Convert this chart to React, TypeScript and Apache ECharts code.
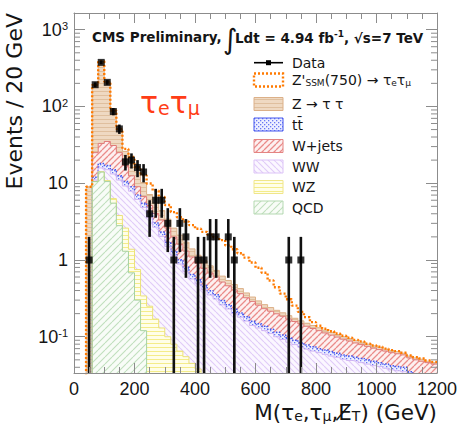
import React, { useEffect, useRef } from 'react';
import * as echarts from 'echarts';

// ---------- data (20 GeV bins, lower edges 0 ... 1180) ----------
const BIN_WIDTH = 20;
const massRange = [0, 1200];
const xTickStep = 200;

const qcd = [
  0, 0, 0, 10.5, 14, 10.5, 5.5, 2.8, 1.3, 0.68,
  0.3, 0.12, 0, 0, 0, 0, 0, 0, 0, 0,
  0, 0, 0, 0, 0, 0, 0, 0, 0, 0,
  0, 0, 0, 0, 0, 0, 0, 0, 0, 0,
  0, 0, 0, 0, 0, 0, 0, 0, 0, 0,
  0, 0, 0, 0, 0, 0, 0, 0, 0, 0,
];
const wz = [
  0, 0, 0, 0, 0.1, 0.3, 0.8, 1.0, 1.3, 0.7,
  0.45, 0.22, 0.25, 0.17, 0.13, 0.1, 0.08, 0.065, 0.055, 0.045,
  0.038, 0.03, 0, 0, 0, 0, 0, 0, 0, 0,
  0, 0, 0, 0, 0, 0, 0, 0, 0, 0,
  0, 0, 0, 0, 0, 0, 0, 0, 0, 0,
  0, 0, 0, 0, 0, 0, 0, 0, 0, 0,
];
const ww = [
  0, 0, 0, 0.5, 1.7, 4.2, 6.9, 7.2, 6.6, 6.5,
  5.4, 4.5, 3.3, 2.5, 1.9, 1.4, 1.06, 0.82, 0.65, 0.52,
  0.45, 0.38, 0.35, 0.31, 0.26, 0.23, 0.2, 0.18, 0.16, 0.14,
  0.13, 0.12, 0.11, 0.1, 0.092, 0.085, 0.079, 0.073, 0.069, 0.065,
  0.062, 0.059, 0.056, 0.054, 0.051, 0.049, 0.048, 0.046, 0.044, 0.042,
  0.041, 0.039, 0.037, 0.036, 0.035, 0.031, 0.029, 0.028, 0.027, 0.026,
];
const ttbar = [
  0, 0, 0, 1.0, 2.2, 2.0, 1.8, 1.5, 1.3, 1.1,
  0.85, 0.66, 0.48, 0.36, 0.28, 0.2, 0.16, 0.12, 0.1, 0.08,
  0.066, 0.056, 0.048, 0.042, 0.036, 0.031, 0.028, 0.024, 0.022, 0.019,
  0.018, 0.017, 0.015, 0.014, 0.013, 0.012, 0.011, 0.01, 0.009, 0.009,
  0.008, 0.008, 0.008, 0.007, 0.007, 0.007, 0.006, 0.006, 0.006, 0.006,
  0.005, 0.005, 0.005, 0.005, 0.005, 0.004, 0.004, 0.004, 0.004, 0.004,
];
const wjets = [
  0, 0, 0, 13, 15, 18, 16, 12.5, 6.5, 3.5,
  2, 1.2, 1.1, 1.0, 1.0, 0.9, 0.7, 0.6, 0.5, 0.45,
  0.35, 0.31, 0.28, 0.25, 0.22, 0.2, 0.18, 0.16, 0.14, 0.13,
  0.11, 0.095, 0.09, 0.085, 0.08, 0.073, 0.068, 0.064, 0.059, 0.054,
  0.05, 0.045, 0.041, 0.038, 0.035, 0.032, 0.029, 0.027, 0.025, 0.023,
  0.022, 0.021, 0.02, 0.019, 0.018, 0.018, 0.017, 0.016, 0.015, 0.014,
];
const ztautau = [
  0, 0, 9, 165, 357, 175, 57, 25, 9, 6.5,
  5, 3.5, 2, 1.5, 1.1, 0.8, 0.6, 0.5, 0.4, 0.3,
  0.25, 0.2, 0.16, 0.13, 0.1, 0.08, 0.07, 0.06, 0.05, 0.04,
  0.035, 0.03, 0.025, 0.022, 0.02, 0.018, 0.016, 0.014, 0.013, 0.012,
  0.011, 0.01, 0.009, 0.008, 0.007, 0.007, 0.006, 0.006, 0.005, 0.005,
  0.005, 0.004, 0.004, 0.004, 0.003, 0.003, 0.003, 0.003, 0.002, 0.002,
];
const zprime = [
  0, 0, 0, 0, 0, 0.2, 0.5, 1.0, 2.0, 3.0,
  2.2, 2.5, 2.8, 2.5, 2.2, 1.8, 1.6, 1.5, 1.45, 1.45,
  1.4, 1.35, 1.3, 1.25, 1.2, 1.0, 0.9, 0.8, 0.7, 0.6,
  0.5, 0.42, 0.3, 0.22, 0.16, 0.12, 0.08, 0.05, 0.03, 0.015,
  0.008, 0.005, 0.004, 0.003, 0.003, 0.002, 0.002, 0.002, 0.001, 0.001,
  0.001, 0.001, 0.001, 0.001, 0.001, 0.001, 0.001, 0.001, 0.001, 0.001,
];

const dataMass = [50, 70, 90, 110, 130, 150, 170, 190, 210, 230, 250, 270, 290, 310, 330, 350, 370, 410, 430, 450, 470, 510, 530, 710, 750];
const dataEvents = [1, 192, 375, 206, 86, 51, 19, 20, 16, 14, 4, 6, 6, 3, 1, 3, 2, 1, 1, 2, 2, 2, 1, 1, 1];

const Y_MIN = 0.0337;
const Y_MAX = 1650;

// ---------- styling helpers ----------
const FONT = "'DejaVu Sans', sans-serif";
const TICK_FONT = "'Liberation Sans', Arial, sans-serif";
const AXIS_GRAY = '#8c8c8c';
const INK = '#151515';

type Draw = (ctx: CanvasRenderingContext2D, s: number) => void;

function makePattern(size: number, bg: string, draw: Draw) {
  const c = document.createElement('canvas');
  c.width = size;
  c.height = size;
  const ctx = c.getContext('2d')!;
  ctx.fillStyle = bg;
  ctx.fillRect(0, 0, size, size);
  draw(ctx, size);
  return { image: c, repeat: 'repeat', imageWidth: size, imageHeight: size } as any;
}

function diag(color: string, width: number, dir: '/' | '\\'): Draw {
  return (ctx, s) => {
    ctx.strokeStyle = color;
    ctx.lineWidth = width;
    ctx.beginPath();
    for (const o of [-s, 0, s]) {
      if (dir === '/') {
        ctx.moveTo(o, s);
        ctx.lineTo(o + s, 0);
      } else {
        ctx.moveTo(o, 0);
        ctx.lineTo(o + s, s);
      }
    }
    ctx.stroke();
  };
}

function hstripe(color: string): Draw {
  return (ctx, s) => {
    ctx.fillStyle = color;
    ctx.fillRect(0, s - 1, s, 1);
  };
}

function steps(vals: number[]) {
  const floor = 1e-4;
  const pts = vals.map((v, i) => [i * BIN_WIDTH, Math.max(v, floor)]);
  pts.push([vals.length * BIN_WIDTH, Math.max(vals[vals.length - 1], floor)]);
  return pts;
}

function yLabel(value: number) {
  const e = Math.round(Math.log10(value));
  if (Math.abs(value - Math.pow(10, e)) > 1e-6 * value) return '';
  if (e === 0) return '{b|1}';
  if (e === 1) return '{b|10}';
  return '{b|10}{s|' + e + '}';
}

export default function App() {
  const ref = useRef<HTMLDivElement>(null);

  useEffect(() => {
    if (!ref.current) return;
    const chart = echarts.init(ref.current, null, { renderer: 'svg' });

    const patZ = makePattern(4, '#efd9c2', hstripe('#dfbf9e'));
    const patW = makePattern(6, '#fdf0f0', diag('#ea8c8a', 1.3, '/'));
    const patT = makePattern(4, '#eef0ff', (ctx) => {
      ctx.fillStyle = '#6977f4';
      ctx.fillRect(0, 0, 1.3, 1.3);
      ctx.fillRect(2, 2, 1.3, 1.3);
    });
    const patWW = makePattern(6, '#fbf7ff', diag('#e0cbf8', 1.1, '\\'));
    const patWZ = makePattern(4, '#fffee8', hstripe('#f4ec8a'));
    const patQ = makePattern(7, '#f8fcf7', diag('#c0dfbd', 1.1, '/'));

    const layers = [
      { values: qcd, fill: patQ, line: '#a6d2a2', type: 'solid' },
      { values: wz, fill: patWZ, line: '#ece27a', type: 'solid' },
      { values: ww, fill: patWW, line: '#d3b7f3', type: 'solid' },
      { values: ttbar, fill: patT, line: '#4456ee', type: 'dotted' },
      { values: wjets, fill: patW, line: '#e07a78', type: 'solid' },
      { values: ztautau, fill: patZ, line: '#dcb088', type: 'solid' },
    ];

    // cumulative stack (built from the component arrays)
    const cumulative: number[][] = [];
    let run = new Array(qcd.length).fill(0);
    for (const l of layers) {
      run = run.map((v, i) => v + l.values[i]);
      cumulative.push(run);
    }
    const totalBkg = cumulative[cumulative.length - 1];
    const withSignal = totalBkg.map((v, i) => v + zprime[i]);

    const stackSeries = layers
      .map((l, k) => ({
        type: 'line',
        data: steps(cumulative[k]),
        step: 'end',
        symbol: 'none',
        showSymbol: false,
        z: 2,
        lineStyle: { color: l.line, width: l.type === 'dotted' ? 1.5 : 1, type: l.type },
        areaStyle: { color: l.fill, opacity: 1, origin: 'start' },
        silent: true,
      }))
      .reverse();

    const minorTickValues: number[] = [];
    for (let e = -2; e <= 3; e++) {
      for (let m = 2; m <= 9; m++) {
        const v = m * Math.pow(10, e);
        if (v > Y_MIN && v < Y_MAX) minorTickValues.push(v);
      }
    }

    const xAxisBase = {
      type: 'value',
      min: massRange[0],
      max: massRange[1],
      interval: xTickStep,
      z: 6,
      axisLine: { show: true, onZero: false, lineStyle: { color: AXIS_GRAY, width: 1 } },
      axisTick: { show: true, inside: true, length: 10, lineStyle: { color: AXIS_GRAY } },
      minorTick: { show: true, splitNumber: 4, length: 6, lineStyle: { color: AXIS_GRAY } },
      splitLine: { show: false },
      minorSplitLine: { show: false },
    };
    const yAxisBase = {
      type: 'log',
      logBase: 10,
      min: Y_MIN,
      max: Y_MAX,
      z: 6,
      axisLine: { show: true, onZero: false, lineStyle: { color: AXIS_GRAY, width: 1 } },
      axisTick: { show: true, inside: true, length: 11, lineStyle: { color: AXIS_GRAY } },
      splitLine: { show: false },
    };

    const tickStyle = { stroke: AXIS_GRAY, lineWidth: 1 };

    const legendRows = [62.7, 80, 104, 124.5, 146, 166.5, 187, 207.5];
    const boxX = 254;
    const boxW = 29;
    const boxH = 13;
    const textX = 292;
    const legText = (y: number, text: string) => ({
      type: 'text',
      x: textX,
      y,
      silent: true,
      style: { text, fontSize: 14, fontFamily: FONT, fill: INK, align: 'left', verticalAlign: 'middle' },
    });
    const legBox = (y: number, fill: any, stroke: string, dash?: number[], lw = 1) => ({
      type: 'rect',
      silent: true,
      shape: { x: boxX, y: y - boxH / 2, width: boxW, height: boxH },
      style: { fill, stroke, lineWidth: lw, lineDash: dash },
    });

    const subRich = (size: number, sub: number, pad: number, color: string) => ({
      n: { fontSize: size, fontFamily: FONT, fill: color, lineHeight: size, verticalAlign: 'top' },
      s: { fontSize: sub, fontFamily: FONT, fill: color, lineHeight: sub, padding: [pad, 0, 0, 0], verticalAlign: 'bottom' },
    });

    const option: any = {
      animation: false,
      backgroundColor: '#ffffff',
      grid: { left: 74, right: 25, top: 13, bottom: 52, containLabel: false, outerBoundsMode: 'none' },
      xAxis: [
        {
          ...xAxisBase,
          position: 'bottom',
          axisLabel: {
            show: true,
            fontSize: 18,
            fontFamily: TICK_FONT,
            color: INK,
            margin: 7,
            formatter: (v: number) => String(v),
          },
        },
        { ...xAxisBase, position: 'top', axisLabel: { show: false } },
      ],
      yAxis: [
        {
          ...yAxisBase,
          position: 'left',
          axisLabel: {
            show: true,
            margin: 6,
            formatter: yLabel,
            rich: {
              b: { fontSize: 18, fontFamily: TICK_FONT, color: INK, lineHeight: 18, verticalAlign: 'bottom' },
              s: { fontSize: 11, fontFamily: TICK_FONT, color: INK, lineHeight: 11, verticalAlign: 'top' },
            },
          },
        },
        { ...yAxisBase, position: 'right', axisLabel: { show: false } },
      ],
      series: [
        ...stackSeries,
        {
          type: 'line',
          data: steps(withSignal),
          step: 'end',
          symbol: 'none',
          showSymbol: false,
          z: 3,
          silent: true,
          lineStyle: { color: '#ff7a00', width: 2.4, type: [2, 2] },
        },
        {
          type: 'custom',
          z: 4,
          silent: true,
          data: dataMass.map((m, i) => [m, dataEvents[i]]),
          renderItem: (params: any, api: any) => {
            const x = api.value(0);
            const n = api.value(1);
            const err = Math.sqrt(n);
            const lo = Math.max(n - err, Y_MIN);
            const hi = n + err;
            const p1 = api.coord([x, lo]);
            const p2 = api.coord([x, hi]);
            return {
              type: 'line',
              shape: { x1: p1[0], y1: p1[1], x2: p2[0], y2: p2[1] },
              style: { stroke: '#111', lineWidth: 2.6 },
            };
          },
        },
        {
          type: 'scatter',
          z: 5,
          silent: true,
          symbol: 'rect',
          symbolSize: 7,
          itemStyle: { color: '#000' },
          data: dataMass.map((m, i) => [m, dataEvents[i]]),
        },
        {
          type: 'custom',
          z: 6,
          silent: true,
          data: minorTickValues.map((v) => [0, v]),
          renderItem: (params: any, api: any) => {
            const y = api.coord([0, api.value(1)])[1];
            const cs = params.coordSys;
            return {
              type: 'group',
              children: [
                { type: 'line', shape: { x1: cs.x, y1: y, x2: cs.x + 6, y2: y }, style: tickStyle },
                { type: 'line', shape: { x1: cs.x + cs.width - 6, y1: y, x2: cs.x + cs.width, y2: y }, style: tickStyle },
              ],
            };
          },
        },
      ],
      graphic: [
        // header
        {
          type: 'text', x: 92, y: 37, silent: true,
          style: { text: 'CMS Preliminary,', fontSize: 13.5, fontWeight: 'bold', fontFamily: FONT, fill: INK, align: 'left', verticalAlign: 'middle' },
        },
        {
          type: 'text', x: 223, y: 39, silent: true,
          style: { text: '∫', fontSize: 28, fontFamily: FONT, fill: INK, align: 'left', verticalAlign: 'middle' },
        },
        {
          type: 'text', x: 235, y: 37, silent: true,
          style: {
            text: '{b|Ldt = 4.94 fb}{s|-1}{b|, √s=7 TeV}',
            align: 'left',
            verticalAlign: 'middle',
            rich: {
              b: { fontSize: 13.5, fontWeight: 'bold', fontFamily: FONT, fill: INK, lineHeight: 15, verticalAlign: 'bottom' },
              s: { fontSize: 9, fontWeight: 'bold', fontFamily: FONT, fill: INK, lineHeight: 9, verticalAlign: 'top' },
            },
          },
        },
        // channel label
        {
          type: 'text', x: 140, y: 102, silent: true,
          style: {
            text: '{n|τ}{s|e}{n|τ}{s|μ}',
            align: 'left',
            verticalAlign: 'middle',
            rich: subRich(30, 19, 14, '#ff3d17'),
          },
        },
        // axis titles
        {
          type: 'text', x: 14, y: 13, rotation: Math.PI / 2, silent: true,
          style: { text: 'Events / 20 GeV', fontSize: 22, fontFamily: FONT, fill: INK, align: 'right', verticalAlign: 'middle' },
        },
        {
          type: 'text', x: 437, y: 412, silent: true,
          style: {
            text: '{n|M(τ}{s|e}{n|,τ}{s|μ}{n|,E\u0338}{s|T}{n|) (GeV)}',
            align: 'right',
            verticalAlign: 'middle',
            rich: subRich(21.5, 14, 9, INK),
          },
        },
        // legend
        {
          type: 'line', silent: true,
          shape: { x1: boxX, y1: legendRows[0], x2: boxX + boxW, y2: legendRows[0] },
          style: { stroke: '#000', lineWidth: 1.6 },
        },
        {
          type: 'rect', silent: true,
          shape: { x: boxX + boxW / 2 - 2.5, y: legendRows[0] - 2.5, width: 5, height: 5 },
          style: { fill: '#000' },
        },
        legText(legendRows[0], 'Data'),
        legBox(legendRows[1], 'none', '#ff7a00', [2, 2], 2.4),
        {
          type: 'text', x: textX, y: legendRows[1], silent: true,
          style: {
            text: "{n|Z'}{s|SSM}{n|(750) → τ}{s|e}{n|τ}{s|μ}",
            align: 'left',
            verticalAlign: 'middle',
            rich: subRich(14, 9, 7, INK),
          },
        },
        legBox(legendRows[2], patZ, '#dcb088'),
        legText(legendRows[2], 'Z → τ τ'),
        legBox(legendRows[3], patT, '#4456ee'),
        legText(legendRows[3], 'tt\u0304'),
        legBox(legendRows[4], patW, '#e48482'),
        legText(legendRows[4], 'W+jets'),
        legBox(legendRows[5], patWW, '#dcc3f7'),
        legText(legendRows[5], 'WW'),
        legBox(legendRows[6], patWZ, '#f0e68a'),
        legText(legendRows[6], 'WZ'),
        legBox(legendRows[7], patQ, '#b5d9b2'),
        legText(legendRows[7], 'QCD'),
      ],
    };

    chart.setOption(option);
    return () => chart.dispose();
  }, []);

  return (
    <div
      ref={ref}
      style={{ position: 'fixed', left: 0, top: 0, width: 462, height: 425, background: '#ffffff' }}
    />
  );
}
